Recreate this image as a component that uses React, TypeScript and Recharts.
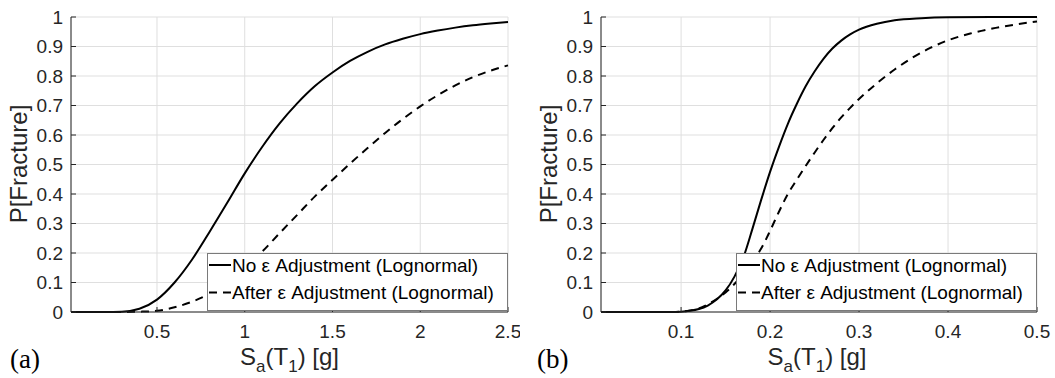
import React from 'react';
import { LineChart, Line, XAxis, YAxis, CartesianGrid } from 'recharts';

// (a) left panel, Sa(T1) in g
const leftNoAdjX = [0.01, 0.2, 0.3, 0.4, 0.5, 0.6, 0.7, 0.8, 0.9, 1.0, 1.1, 1.2, 1.3, 1.4, 1.5, 1.6, 1.7, 1.8, 1.9, 2.0, 2.1, 2.2, 2.3, 2.4, 2.5];
const leftNoAdjP = [0, 0, 0.001, 0.011, 0.042, 0.1, 0.178, 0.272, 0.37, 0.47, 0.56, 0.64, 0.708, 0.766, 0.812, 0.851, 0.882, 0.907, 0.926, 0.942, 0.954, 0.964, 0.972, 0.978, 0.983];
const leftAdjX = [0.01, 0.3, 0.4, 0.5, 0.6, 0.7, 0.8, 0.9, 1.0, 1.1, 1.2, 1.3, 1.4, 1.5, 1.6, 1.7, 1.8, 1.9, 2.0, 2.1, 2.2, 2.3, 2.4, 2.5];
const leftAdjP = [0, 0, 0.001, 0.004, 0.016, 0.035, 0.062, 0.1, 0.148, 0.205, 0.268, 0.33, 0.392, 0.448, 0.503, 0.556, 0.607, 0.654, 0.697, 0.735, 0.768, 0.796, 0.818, 0.836];

// (b) right panel
const rightNoAdjX = [0.01, 0.09, 0.1, 0.11, 0.12, 0.13, 0.14, 0.15, 0.16, 0.17, 0.18, 0.19, 0.2, 0.21, 0.22, 0.23, 0.24, 0.25, 0.26, 0.27, 0.28, 0.29, 0.3, 0.32, 0.34, 0.37, 0.4, 0.45, 0.5];
const rightNoAdjP = [0, 0, 0.001, 0.004, 0.01, 0.022, 0.042, 0.073, 0.12, 0.185, 0.28, 0.38, 0.475, 0.56, 0.638, 0.705, 0.765, 0.815, 0.858, 0.893, 0.92, 0.941, 0.957, 0.977, 0.989, 0.996, 0.999, 1, 1];
const rightAdjX = [0.01, 0.09, 0.1, 0.11, 0.12, 0.13, 0.14, 0.15, 0.16, 0.17, 0.18, 0.19, 0.2, 0.21, 0.22, 0.23, 0.24, 0.25, 0.26, 0.27, 0.28, 0.29, 0.3, 0.32, 0.34, 0.36, 0.38, 0.4, 0.425, 0.45, 0.475, 0.5];
const rightAdjP = [0, 0, 0.001, 0.005, 0.012, 0.026, 0.044, 0.066, 0.095, 0.13, 0.17, 0.215, 0.275, 0.34, 0.4, 0.448, 0.495, 0.54, 0.583, 0.623, 0.66, 0.692, 0.722, 0.775, 0.822, 0.862, 0.895, 0.921, 0.944, 0.961, 0.974, 0.985];

const yTicks = [0, 0.1, 0.2, 0.3, 0.4, 0.5, 0.6, 0.7, 0.8, 0.9, 1];
const leftXTicks = [0.5, 1, 1.5, 2, 2.5];
const rightXTicks = [0.1, 0.2, 0.3, 0.4, 0.5];

const legendNames = ['No \u03b5 Adjustment (Lognormal)', 'After \u03b5 Adjustment (Lognormal)'];

const zip = (xs: number[], ps: number[]) => xs.map((x, i) => ({ x, p: ps[i] }));

const AXIS = '#262626';
const SANS = '"Liberation Sans", Arial, Helvetica, sans-serif';
const SERIF = '"Liberation Serif", "Times New Roman", serif';
const blank = () => '';

function Panel({ width, yAxisWidth, rightMargin, xMax, xTicks, solid, dashed }: any) {
  const tickStyle = { fill: AXIS, fontSize: 19, fontFamily: SANS };
  return (
    <LineChart width={width} height={378} margin={{ top: 17, right: rightMargin, bottom: 0, left: 0 }}>
      <CartesianGrid stroke="#dfdfdf" />
      <XAxis type="number" dataKey="x" domain={[0.01, xMax]} ticks={xTicks} interval={0} height={66}
        tickSize={-5} tickMargin={18} tick={tickStyle} stroke={AXIS} />
      <XAxis xAxisId="top" orientation="top" type="number" dataKey="x" domain={[0.01, xMax]} ticks={xTicks}
        allowDataOverflow interval={0} height={0} tickSize={-5} tickFormatter={blank} stroke={AXIS} />
      <YAxis type="number" domain={[0, 1]} ticks={yTicks} interval={0} width={yAxisWidth}
        tickSize={-5} tickMargin={13} tick={tickStyle} stroke={AXIS} />
      <YAxis yAxisId="r" orientation="right" type="number" domain={[0, 1]} ticks={yTicks} allowDataOverflow
        interval={0} width={0} tickSize={-5} tickFormatter={blank} stroke={AXIS} />
      <Line data={dashed} dataKey="p" type="monotone" stroke="#000" strokeWidth={2} strokeDasharray="8 6"
        dot={false} activeDot={false} isAnimationActive={false} />
      <Line data={solid} dataKey="p" type="monotone" stroke="#000" strokeWidth={2}
        dot={false} activeDot={false} isAnimationActive={false} />
    </LineChart>
  );
}

function LegendBox({ x }: { x: number }) {
  return (
    <g>
      <rect x={x + 0.5} y={253.5} width={300} height={57} fill="#fff" stroke="#7a7a7a" />
      <line x1={x + 2} x2={x + 24} y1={265} y2={265} stroke="#000" strokeWidth={2} />
      <line x1={x + 2} x2={x + 24} y1={292.5} y2={292.5} stroke="#000" strokeWidth={2} strokeDasharray="8 6" />
      <text x={x + 25} y={265} dominantBaseline="central" fontFamily={SANS} fontSize={19} fill="#000">{legendNames[0]}</text>
      <text x={x + 25} y={292.5} dominantBaseline="central" fontFamily={SANS} fontSize={19} fill="#000">{legendNames[1]}</text>
    </g>
  );
}

function XTitle({ cx }: { cx: number }) {
  return (
    <text x={cx} y={365} textAnchor="middle" fontFamily={SANS} fontSize={24} fill={AXIS}>
      <tspan>S</tspan>
      <tspan fontSize={17} dy={7}>a</tspan>
      <tspan dy={-7}>(T</tspan>
      <tspan fontSize={17} dy={7}>1</tspan>
      <tspan dy={-7}>) [g]</tspan>
    </text>
  );
}

function YTitle({ cx }: { cx: number }) {
  return (
    <text x={cx} y={164} textAnchor="middle" dominantBaseline="central" transform={`rotate(-90 ${cx} 164)`}
      fontFamily={SANS} fontSize={24} fill={AXIS}>
      P[Fracture]
    </text>
  );
}

export default function App() {
  return (
    <div style={{ position: 'absolute', left: 0, top: 0, width: 1055, height: 378, background: '#fff', overflow: 'hidden' }}>
      <div style={{ position: 'absolute', left: 0, top: 0 }}>
        <Panel width={520} yAxisWidth={71} rightMargin={12} xMax={2.5} xTicks={leftXTicks}
          solid={zip(leftNoAdjX, leftNoAdjP)} dashed={zip(leftAdjX, leftAdjP)} />
      </div>
      <div style={{ position: 'absolute', left: 520, top: 0 }}>
        <Panel width={535} yAxisWidth={81} rightMargin={18} xMax={0.5} xTicks={rightXTicks}
          solid={zip(rightNoAdjX, rightNoAdjP)} dashed={zip(rightAdjX, rightAdjP)} />
      </div>
      <svg width={1055} height={378} style={{ position: 'absolute', left: 0, top: 0, pointerEvents: 'none' }}>
        <LegendBox x={207} />
        <LegendBox x={736} />
        <XTitle cx={289.5} />
        <XTitle cx={817} />
        <YTitle cx={18} />
        <YTitle cx={548} />
        <text x={10} y={368} fontFamily={SERIF} fontSize={27} fill="#000">(a)</text>
        <text x={537} y={368} fontFamily={SERIF} fontSize={27} fill="#000">(b)</text>
      </svg>
    </div>
  );
}
